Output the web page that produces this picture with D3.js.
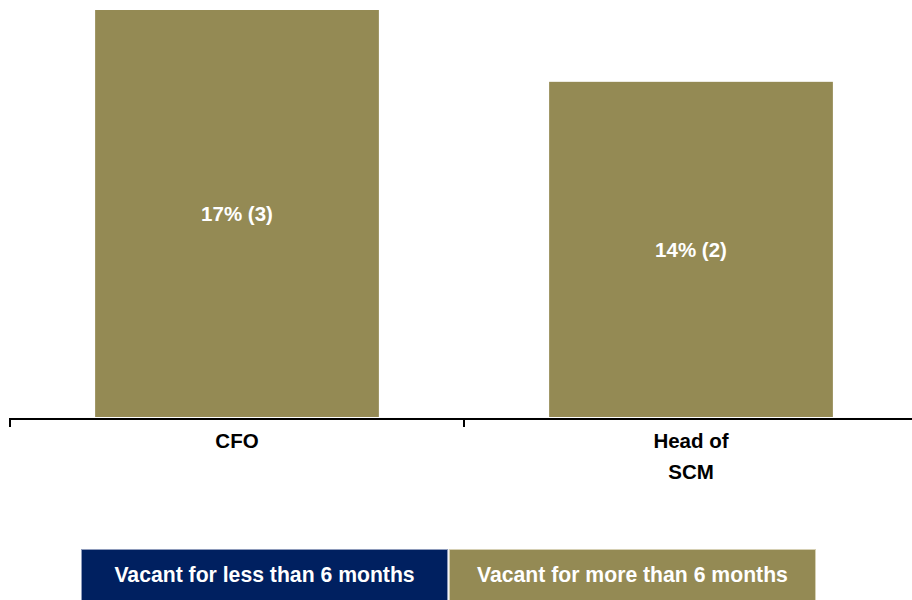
<!DOCTYPE html>
<html>
<head>
<meta charset="utf-8">
<script src="https://cdn.jsdelivr.net/npm/d3@7"></script>
<style>
  html, body { margin: 0; padding: 0; background: #ffffff; }
  svg { display: block; font-family: "Liberation Sans", Arial, sans-serif; }
</style>
</head>
<body>
<svg id="chart" width="912" height="600"></svg>
<script>
// Vacant positions: share of vacancies (%) and number of cases per role
const categories = [["CFO"], ["Head of", "SCM"]];
const vacantMoreThan6Pct = [17, 14];
const vacantMoreThan6Count = [3, 2];
const legendLabels = ["Vacant for less than 6 months", "Vacant for more than 6 months"];
const legendColors = ["#002060", "#948A54"];
const legendBorders = ["#8E9BBB", "#D6D0B4"];

const W = 912, H = 600;
const svg = d3.select("#chart");

const keys = categories.map(c => c.join(" "));
const x = d3.scaleBand()
  .domain(keys)
  .range([10, 918])
  .paddingInner(0.375)
  .paddingOuter(0.1875);

const y = d3.scaleLinear()
  .domain([0, 17])
  .range([417, 10]);

// Bars
const rows = keys.map((k, i) => ({ key: k, value: vacantMoreThan6Pct[i], count: vacantMoreThan6Count[i] }));

svg.append("g").selectAll("rect")
  .data(rows)
  .join("rect")
  .attr("x", d => x(d.key))
  .attr("y", d => y(d.value))
  .attr("width", x.bandwidth())
  .attr("height", d => y(0) - y(d.value))
  .attr("fill", legendColors[1]);

// Value labels centred inside each bar
svg.append("g").selectAll("text")
  .data(rows)
  .join("text")
  .attr("x", d => x(d.key) + x.bandwidth() / 2)
  .attr("y", d => (y(d.value) + y(0)) / 2)
  .attr("dy", "0.35em")
  .attr("text-anchor", "middle")
  .attr("fill", "#ffffff")
  .attr("font-weight", "bold")
  .attr("font-size", 20.5)
  .text(d => `${d.value}% (${d.count})`);

// Category axis: baseline with ticks at band boundaries
const axisY = 419;
const axis = svg.append("g");
axis.append("line")
  .attr("x1", 9).attr("x2", W)
  .attr("y1", axisY).attr("y2", axisY)
  .attr("stroke", "#000").attr("stroke-width", 2);

const boundaries = keys.map(k => x(k) - x.step() * x.paddingInner() / 2);
axis.selectAll("line.tick")
  .data(boundaries)
  .join("line")
  .attr("class", "tick")
  .attr("x1", d => d).attr("x2", d => d)
  .attr("y1", axisY).attr("y2", axisY + 8)
  .attr("stroke", "#000").attr("stroke-width", 2);

const catLabels = axis.selectAll("text")
  .data(categories)
  .join("text")
  .attr("x", (d, i) => x(keys[i]) + x.bandwidth() / 2)
  .attr("y", 448)
  .attr("text-anchor", "middle")
  .attr("fill", "#000")
  .attr("font-weight", "bold")
  .attr("font-size", 20.5);

catLabels.selectAll("tspan")
  .data(d => d)
  .join("tspan")
  .attr("x", function () { return this.parentNode.getAttribute("x"); })
  .attr("dy", (d, j) => j === 0 ? 0 : 31)
  .text(d => d);

// Legend as two adjoining coloured cells
const legendX = d3.scaleBand()
  .domain(legendLabels)
  .range([81.5, 815.5])
  .paddingInner(0.005);

const legend = svg.append("g");
const cells = legend.selectAll("g")
  .data(legendLabels)
  .join("g")
  .attr("transform", d => `translate(${legendX(d)},549.5)`);

cells.append("rect")
  .attr("width", legendX.bandwidth())
  .attr("height", 52)
  .attr("fill", (d, i) => legendColors[i])
  .attr("stroke", (d, i) => legendBorders[i])
  .attr("stroke-width", 1);

cells.append("text")
  .attr("x", legendX.bandwidth() / 2)
  .attr("y", 25)
  .attr("dy", "0.35em")
  .attr("text-anchor", "middle")
  .attr("fill", "#ffffff")
  .attr("font-weight", "bold")
  .attr("font-size", 21.2)
  .text(d => d);
</script>
</body>
</html>
